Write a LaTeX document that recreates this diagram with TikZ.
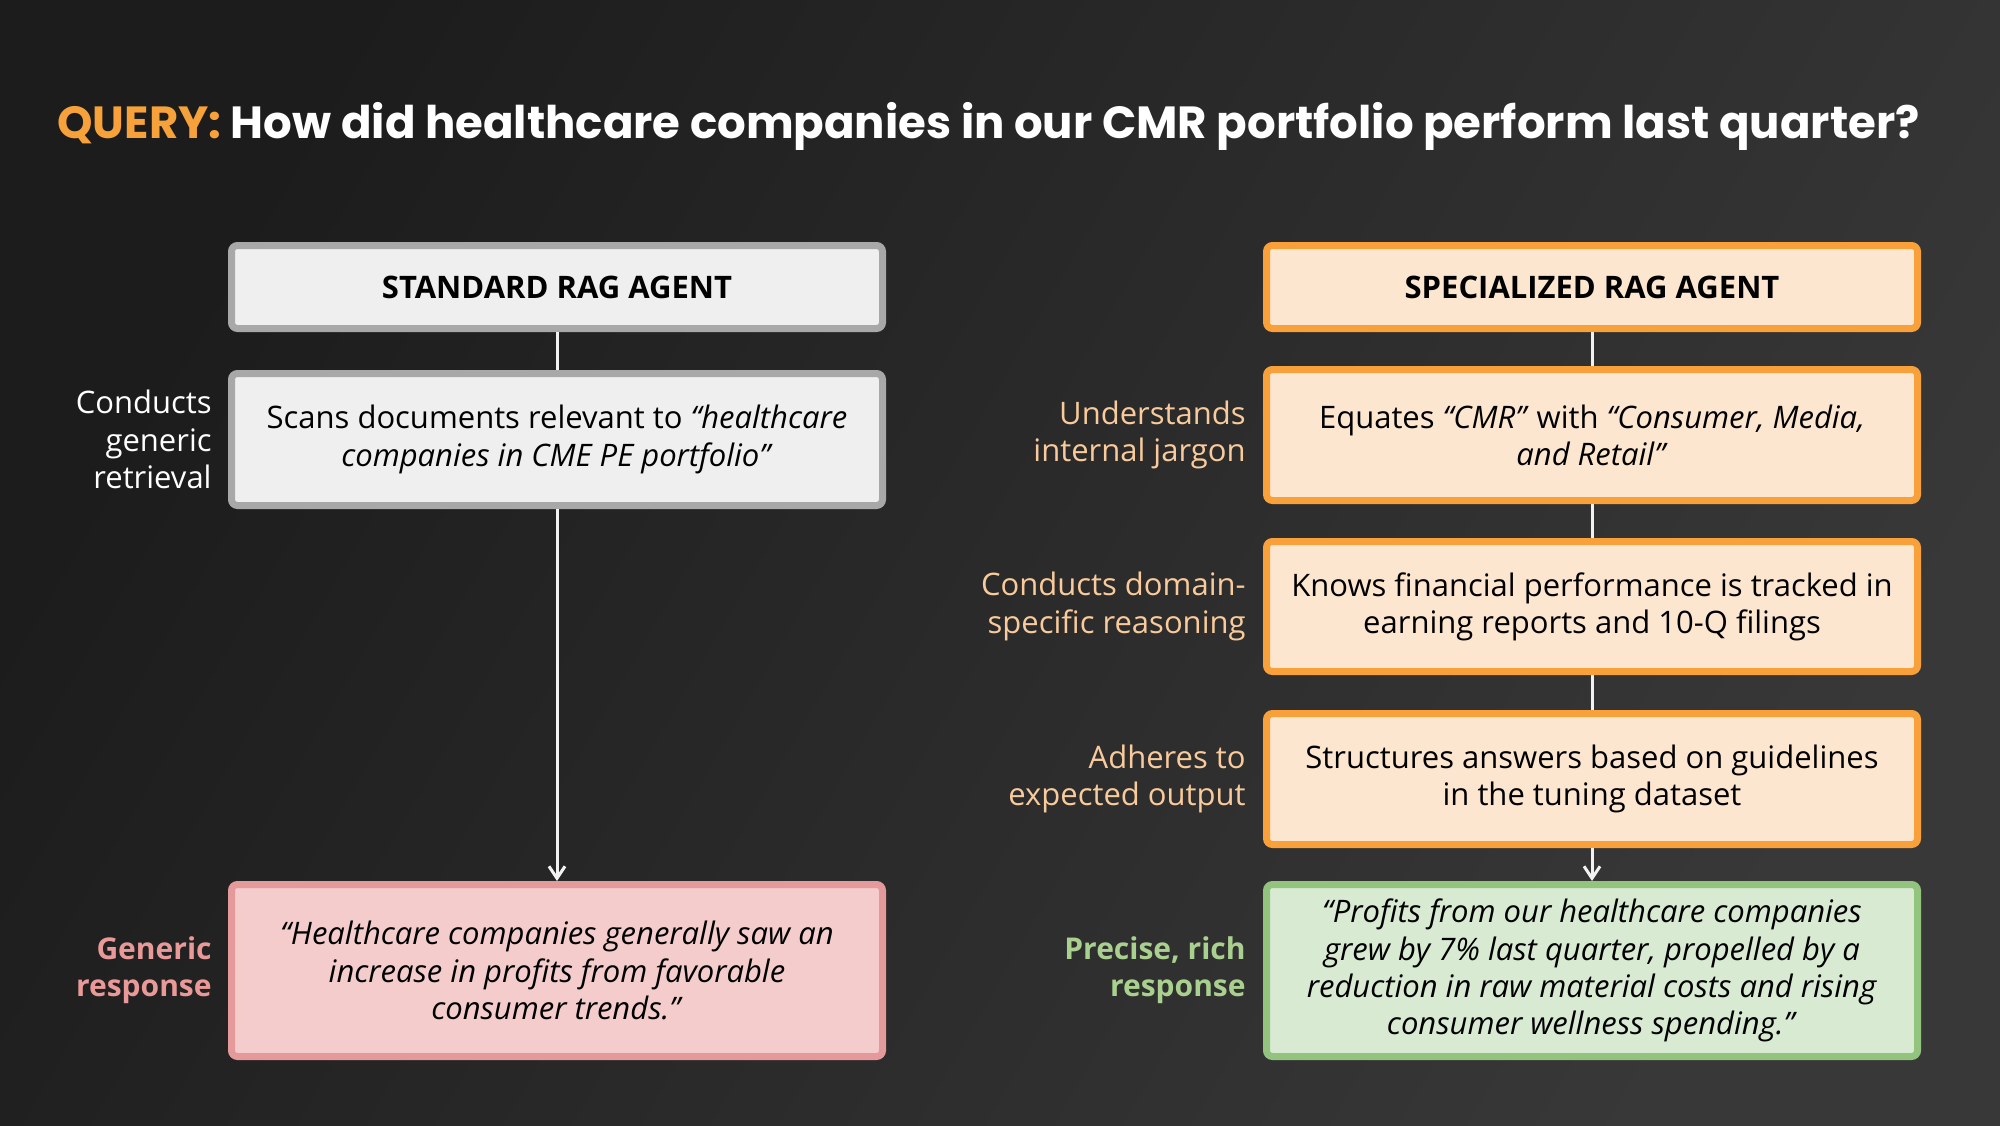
\documentclass[tikz,border=0pt]{standalone}
\usepackage{fontspec}
\setmainfont{Open Sans}
\newfontfamily\titlefont{Poppins}
\usetikzlibrary{arrows.meta}
\definecolor{bgA}{HTML}{1C1C1C}
\definecolor{bgB}{HTML}{383838}
\definecolor{orT}{HTML}{F7A13A}
\definecolor{greyF}{HTML}{EFEFEF}
\definecolor{greyB}{HTML}{A8A8A8}
\definecolor{orF}{HTML}{FDE6CF}
\definecolor{orB}{HTML}{F8A03A}
\definecolor{pinkF}{HTML}{F4CCCC}
\definecolor{pinkB}{HTML}{E49A9A}
\definecolor{greenF}{HTML}{D9EAD3}
\definecolor{greenB}{HTML}{93C47D}
\definecolor{peachL}{HTML}{F9CB9C}
\definecolor{pinkL}{HTML}{EA9999}
\definecolor{greenL}{HTML}{A9D08E}
\definecolor{lineC}{HTML}{F2F2F2}
\begin{document}
\begin{tikzpicture}[x=0.5pt,y=-0.5pt,
  box/.style={rectangle, rounded corners=3pt, line width=3.5pt, minimum width=325.5pt,
    align=center, inner sep=0pt, text=black, font=\fontsize{15.5pt}{18.6pt}\selectfont},
  headbox/.style={box, minimum height=41.5pt, font=\bfseries\fontsize{15.5pt}{18pt}\selectfont},
  stdbox/.style={box, draw=greyB, fill=greyF},
  spcbox/.style={box, draw=orB, fill=orF},
  lbl/.style={anchor=east, align=right, inner sep=0pt, font=\fontsize{15.5pt}{18.6pt}\selectfont},
  blbl/.style={lbl, font=\bfseries\fontsize{15pt}{18.6pt}\selectfont},
  conn/.style={draw=lineC, line width=1.5pt},
  arr/.style={conn, -{Straight Barb[length=6pt, width=8pt, line width=1.5pt]}}
]
\useasboundingbox (0,0) rectangle (2000,1125);
\shade[left color=bgA, right color=bgB, shading angle=60] (0,0) rectangle (2000,1125);

\node[anchor=base west, inner sep=0pt, text=white] (title) at (57,138)
  {\resizebox{931pt}{!}{\titlefont\bfseries\textcolor{orT}{QUERY:} How did healthcare companies in our CMR portfolio perform last quarter?}};

% left column
\node[stdbox, headbox, draw=greyB, fill=greyF] (L1) at (557,287) {STANDARD RAG AGENT};
\node[stdbox, minimum height=66pt] (L2) at (557,439.5)
  {Scans documents relevant to \textit{“healthcare}\\\textit{companies in CME PE portfolio”}};
\node[box, draw=pinkB, fill=pinkF, minimum height=86pt] (L3) at (557,970.5)
  {\textit{“Healthcare companies generally saw an}\\\textit{increase in profits from favorable}\\\textit{consumer trends.”}};

\node[lbl, text=white] (Llab2) at ([xshift=-8pt]L2.west) {Conducts\\generic\\retrieval};
\node[blbl, text=pinkL] (Llab3) at ([xshift=-8pt]L3.west) {Generic\\response};

\draw[conn] (L1.south) -- (L2.north);
\draw[arr] (L2.south) -- (L3.north);

% right column
\node[spcbox, headbox, draw=orB, fill=orF] (R1) at (1592,287) {SPECIALIZED RAG AGENT};
\node[spcbox, minimum height=65.5pt] (R2) at (1592,435)
  {Equates \textit{“CMR”} with \textit{“Consumer, Media,}\\\textit{and Retail”}};
\node[spcbox, minimum height=65pt] (R3) at (1592,606.5)
  {Knows financial performance is tracked in\\earning reports and 10-Q filings};
\node[spcbox, minimum height=65.5pt] (R4) at (1592,779)
  {Structures answers based on guidelines\\in the tuning dataset};
\node[box, draw=greenB, fill=greenF, minimum height=86pt] (R5) at (1592,970.5)
  {\textit{“Profits from our healthcare companies}\\\textit{grew by 7\% last quarter, propelled by a}\\\textit{reduction in raw material costs and rising}\\\textit{consumer wellness spending.”}};

\node[lbl, text=peachL] (Rlab2) at ([xshift=-8.5pt]R2.west) {Understands\\internal jargon};
\node[lbl, text=peachL] (Rlab3) at ([xshift=-8.5pt]R3.west) {Conducts domain-\\specific reasoning};
\node[lbl, text=peachL] (Rlab4) at ([xshift=-8.5pt]R4.west) {Adheres to\\expected output};
\node[blbl, text=greenL] (Rlab5) at ([xshift=-8.5pt]R5.west) {Precise, rich\\response};

\draw[conn] (R1.south) -- (R2.north);
\draw[conn] (R2.south) -- (R3.north);
\draw[conn] (R3.south) -- (R4.north);
\draw[arr] (R4.south) -- (R5.north);
\end{tikzpicture}
\end{document}
